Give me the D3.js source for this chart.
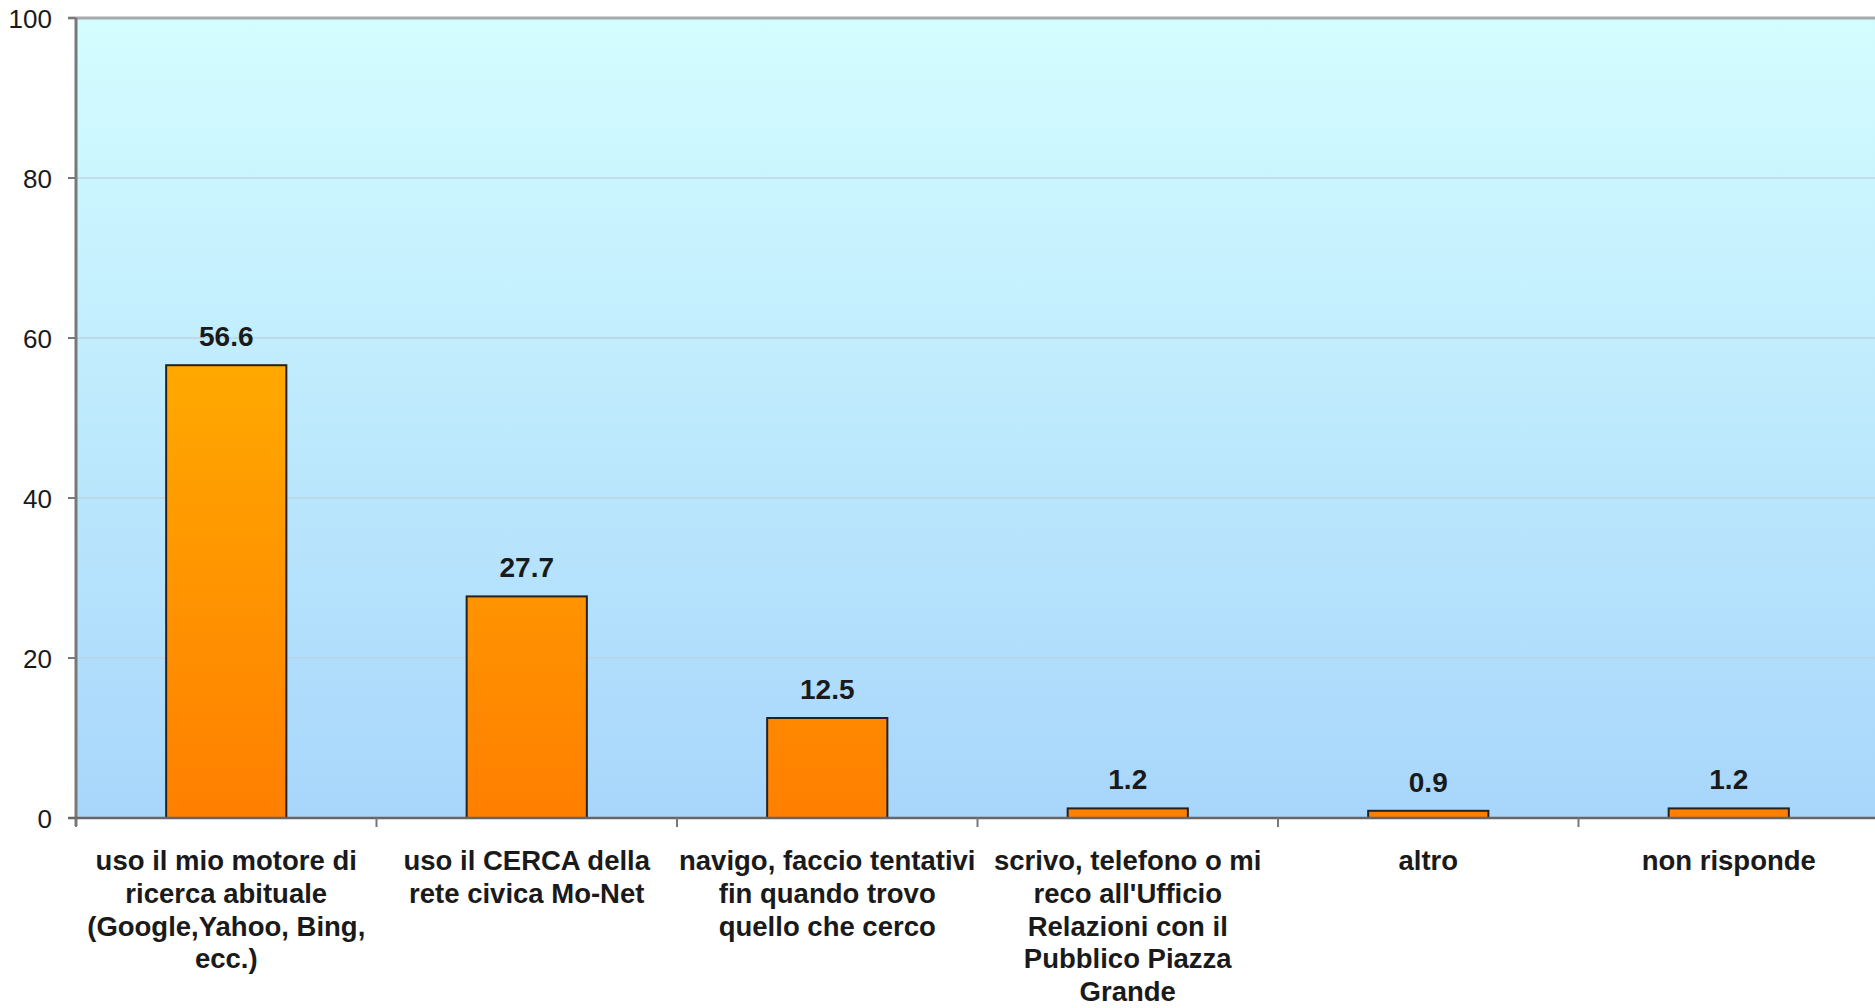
<!DOCTYPE html>
<html>
<head>
<meta charset="utf-8">
<script src="https://cdn.jsdelivr.net/npm/d3@7"></script>
<style>
  html, body { margin: 0; padding: 0; background: #ffffff; }
  svg { display: block; }
  text { font-family: "Liberation Sans", Arial, Helvetica, sans-serif; fill: #1a1a1a; }
</style>
</head>
<body>
<svg id="chart" width="1875" height="1008"></svg>
<script>
// Percentuali di risposta per modalità di ricerca
const categories = ["motore", "cerca", "navigo", "urp", "altro", "nonrisponde"];
const categoryLabels = [
  ["uso il mio motore di", "ricerca abituale", "(Google,Yahoo, Bing,", "ecc.)"],
  ["uso il CERCA della", "rete civica Mo-Net"],
  ["navigo, faccio tentativi", "fin quando trovo", "quello che cerco"],
  ["scrivo, telefono o mi", "reco all'Ufficio", "Relazioni con il", "Pubblico Piazza", "Grande"],
  ["altro"],
  ["non risponde"]
];
const values = [56.6, 27.7, 12.5, 1.2, 0.9, 1.2];
const yTicks = [0, 20, 40, 60, 80, 100];

const svg = d3.select("#chart");
const plotLeft = 76, plotRight = 1879, plotTop = 18, plotBottom = 818;

const x = d3.scaleBand()
  .domain(categories)
  .range([plotLeft, plotRight])
  .paddingInner(0.6)
  .paddingOuter(0.3);

const y = d3.scaleLinear().domain([0, 100]).range([plotBottom, plotTop]);

const defs = svg.append("defs");
const bg = defs.append("linearGradient").attr("id", "bgGrad")
  .attr("x1", 0).attr("y1", 0).attr("x2", 0).attr("y2", 1);
bg.append("stop").attr("offset", "0%").attr("stop-color", "#d4fdff");
bg.append("stop").attr("offset", "100%").attr("stop-color", "#a8d6fb");

const barGrad = defs.append("linearGradient").attr("id", "barGrad")
  .attr("gradientUnits", "userSpaceOnUse")
  .attr("x1", 0).attr("y1", y(60)).attr("x2", 0).attr("y2", y(0));
barGrad.append("stop").attr("offset", "0%").attr("stop-color", "#ffab00");
barGrad.append("stop").attr("offset", "100%").attr("stop-color", "#ff7f00");

// plot background
svg.append("rect")
  .attr("x", plotLeft).attr("y", plotTop)
  .attr("width", plotRight - plotLeft).attr("height", plotBottom - plotTop)
  .attr("fill", "url(#bgGrad)");

// horizontal gridlines
svg.append("g")
  .selectAll("line")
  .data(yTicks.filter(t => t > 0 && t < 100))
  .join("line")
  .attr("x1", plotLeft).attr("x2", plotRight)
  .attr("y1", d => y(d)).attr("y2", d => y(d))
  .attr("stroke", "#bdd3de").attr("stroke-width", 2).attr("opacity", 0.7);

// top border at 100
svg.append("line")
  .attr("x1", plotLeft - 8).attr("x2", plotRight)
  .attr("y1", y(100)).attr("y2", y(100))
  .attr("stroke", "#a8a8a8").attr("stroke-width", 3);

// bars
svg.append("g")
  .selectAll("rect")
  .data(values)
  .join("rect")
  .attr("x", (d, i) => x(categories[i]))
  .attr("y", d => y(d))
  .attr("width", x.bandwidth())
  .attr("height", d => y(0) - y(d))
  .attr("fill", "url(#barGrad)")
  .attr("stroke", "#222")
  .attr("stroke-width", 2);

// value labels
svg.append("g")
  .selectAll("text")
  .data(values)
  .join("text")
  .attr("x", (d, i) => x(categories[i]) + x.bandwidth() / 2)
  .attr("y", d => y(d) - 19)
  .attr("text-anchor", "middle")
  .attr("font-size", 28)
  .attr("font-weight", "bold")
  .text(d => d.toFixed(1));

// y axis
const yAxis = svg.append("g").attr("transform", `translate(${plotLeft},0)`);
yAxis.append("line")
  .attr("x1", 0).attr("x2", 0).attr("y1", plotTop).attr("y2", plotBottom + 8)
  .attr("stroke", "#787878").attr("stroke-width", 3);
yAxis.selectAll("line.tick")
  .data(yTicks)
  .join("line").attr("class", "tick")
  .attr("x1", -8).attr("x2", 0)
  .attr("y1", d => y(d)).attr("y2", d => y(d))
  .attr("stroke", "#787878").attr("stroke-width", 2);
yAxis.selectAll("text")
  .data(yTicks)
  .join("text")
  .attr("x", -24).attr("y", d => y(d))
  .attr("dy", "0.4em")
  .attr("text-anchor", "end")
  .attr("font-size", 26)
  .text(d => d);

// x axis
const xAxis = svg.append("g");
xAxis.append("line")
  .attr("x1", plotLeft - 8).attr("x2", plotRight)
  .attr("y1", plotBottom).attr("y2", plotBottom)
  .attr("stroke", "#666").attr("stroke-width", 2.5);
const boundaries = categories.map(c => x(c) - x.step() * x.paddingOuter());
xAxis.selectAll("line.tick")
  .data(boundaries)
  .join("line").attr("class", "tick")
  .attr("x1", d => d).attr("x2", d => d)
  .attr("y1", plotBottom).attr("y2", plotBottom + 9)
  .attr("stroke", "#777").attr("stroke-width", 2);

// category labels
const labels = xAxis.selectAll("text.cat")
  .data(categoryLabels)
  .join("text").attr("class", "cat")
  .attr("x", (d, i) => x(categories[i]) + x.bandwidth() / 2)
  .attr("y", 870)
  .attr("text-anchor", "middle")
  .attr("font-size", 27.5)
  .attr("font-weight", "bold");
labels.selectAll("tspan")
  .data((d, i) => d.map(line => ({ line, cx: x(categories[i]) + x.bandwidth() / 2 })))
  .join("tspan")
  .attr("x", d => d.cx)
  .attr("dy", (d, j) => j === 0 ? 0 : 32.8)
  .text(d => d.line);
</script>
</body>
</html>
